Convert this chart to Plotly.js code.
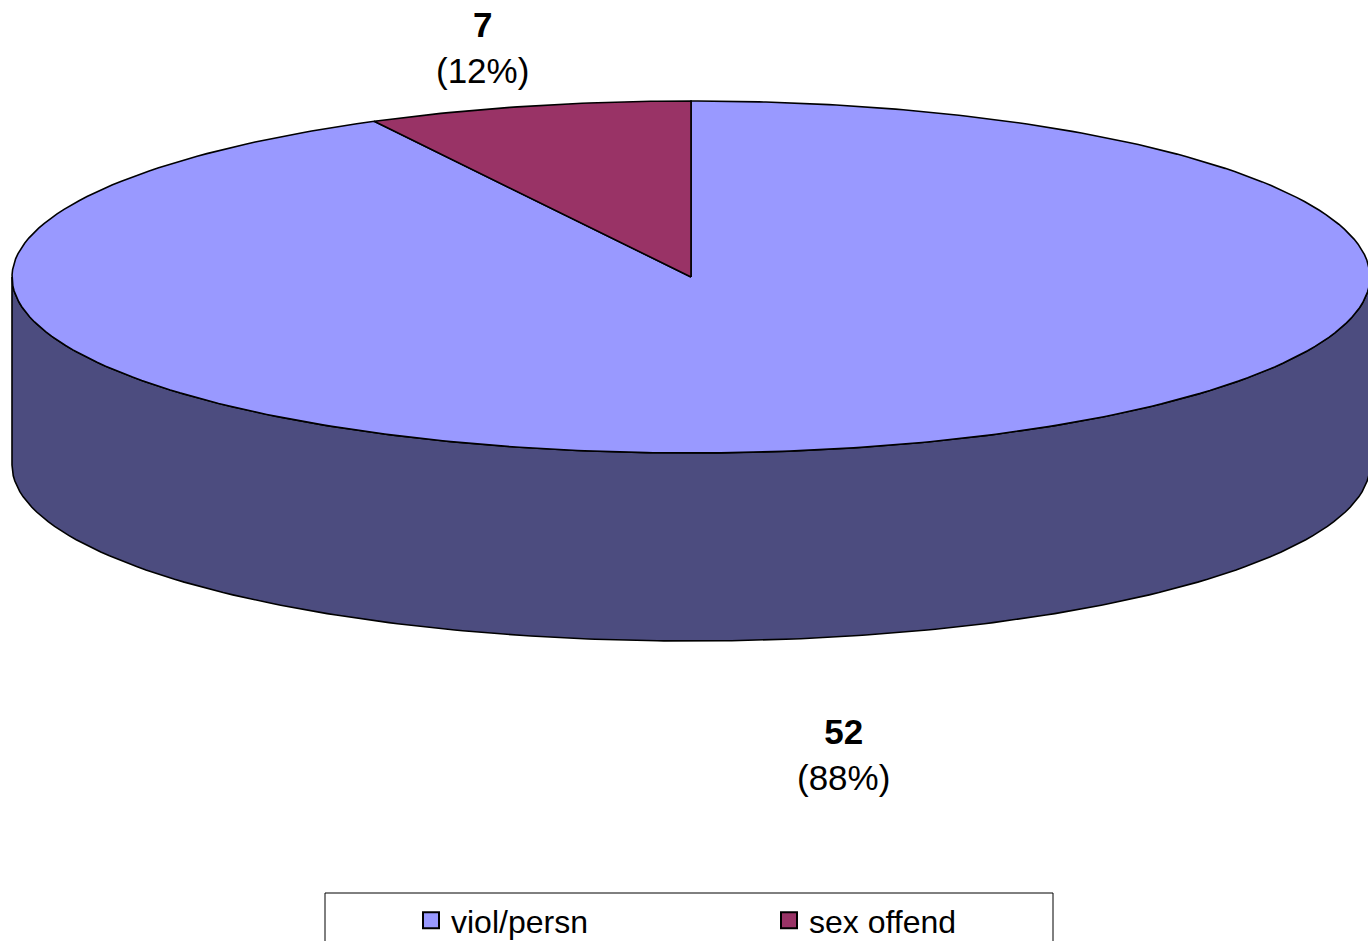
<!DOCTYPE html>
<html>
<head>
<meta charset="utf-8">
<script src="https://cdn.plot.ly/plotly-3.0.1.min.js"></script>
<style>html,body{margin:0;padding:0;background:#fff;}#chart{width:1368px;height:941px;}</style>
</head>
<body>
<div id="chart"></div>
<script>
// ---- data ----
const categories = ['viol/persn', 'sex offend'];
const values = [52, 7];
const topColors = ['#9999FF', '#993366'];
const sideColors = ['#4C4C7F', '#4C1933'];

// ---- 3D pie geometry (style) ----
const W = 1368, H = 941;
const cx = 691, cy = 277, rx = 679, ry = 176, depth = 188;
const warpK = 1.75;          // angular distortion of the tilted 3-D base
const labelXF = 1.22, labelDX = -28, gapBack = 58, gapFront = 118;

const total = values.reduce((a, b) => a + b, 0);
const rad = d => d * Math.PI / 180;
// clockwise angle from 12 o'clock (deg) -> projected parametric angle (rad)
function warp(deg) {
  const a = rad(deg);
  let t = Math.atan2(Math.sin(a), warpK * Math.cos(a));
  while (t - a > Math.PI) t -= 2 * Math.PI;
  while (a - t > Math.PI) t += 2 * Math.PI;
  return t;
}
const px = t => cx + rx * Math.sin(t);
const py = (t, dz) => cy - ry * Math.cos(t) + (dz || 0);

function arc(d1, d2, dz) {
  const n = Math.max(2, Math.ceil(Math.abs(d2 - d1) / 1));
  const xs = [], ys = [];
  for (let i = 0; i <= n; i++) {
    const t = warp(d1 + (d2 - d1) * i / n);
    xs.push(px(t)); ys.push(py(t, dz));
  }
  return [xs, ys];
}

const sides = [], tops = [], annotations = [];
let start = 0;
values.forEach((v, i) => {
  const sweep = v / total * 360;
  const d1 = start, d2 = start + sweep;
  const f1 = Math.max(d1, 90), f2 = Math.min(d2, 270);
  if (f2 > f1) {
    const [xt, yt] = arc(f1, f2, 0);
    const [xb, yb] = arc(f2, f1, depth);
    sides.push({
      type: 'scatter', mode: 'lines', x: xt.concat(xb, [xt[0]]), y: yt.concat(yb, [yt[0]]),
      fill: 'toself', fillcolor: sideColors[i], line: {color: '#000', width: 1.6},
      hoverinfo: 'skip', showlegend: false
    });
  }
  const [xa, ya] = arc(d1, d2, 0);
  tops.push({
    type: 'scatter', mode: 'lines', x: [cx].concat(xa, [cx]), y: [cy].concat(ya, [cy]),
    fill: 'toself', fillcolor: topColors[i], line: {color: '#000', width: 1.6},
    name: categories[i], hoverinfo: 'name', showlegend: false
  });
  const tm = warp((d1 + d2) / 2);
  const front = Math.cos(tm) < 0;
  const lx = cx + labelXF * rx * Math.sin(tm) + labelDX;
  const ly = py(tm, front ? depth + gapFront : -gapBack);
  annotations.push({
    x: lx, y: ly, xref: 'x', yref: 'y', showarrow: false, xanchor: 'center', yanchor: 'middle',
    text: '<b>' + v + '</b><br>(' + Math.round(v / total * 100) + '%)',
    font: {family: 'Liberation Sans, Arial, sans-serif', size: 35, color: '#000'}
  });
  start = d2;
});

const legendTraces = categories.map((c, i) => ({
  type: 'scatter', mode: 'markers', x: [null], y: [null], name: c,
  marker: {symbol: 'square', size: 18, color: topColors[i], line: {color: '#000', width: 2}},
  showlegend: true, hoverinfo: 'skip'
}));

const layout = {
  width: W, height: H,
  margin: {l: 0, r: 0, t: 0, b: 0, autoexpand: false},
  paper_bgcolor: '#fff', plot_bgcolor: '#fff',
  xaxis: {range: [0, W], visible: false, fixedrange: true},
  yaxis: {range: [H, 0], visible: false, fixedrange: true},
  showlegend: true,
  legend: {
    orientation: 'h', x: 411 / W, xanchor: 'left', y: 1 - 893 / H, yanchor: 'top',
    bgcolor: 'rgba(0,0,0,0)', borderwidth: 0, entrywidth: 313, entrywidthmode: 'pixels',
    font: {family: 'Liberation Sans, Arial, sans-serif', size: 32, color: '#000'},
    itemclick: false, itemdoubleclick: false
  },
  shapes: [{
    type: 'rect', xref: 'paper', yref: 'paper',
    x0: 325 / W, x1: 1053 / W, y0: -0.05, y1: 1 - 893 / H,
    line: {color: '#000', width: 1}, fillcolor: 'rgba(0,0,0,0)', layer: 'below'
  }],
  annotations: annotations,
  font: {family: 'Liberation Sans, Arial, sans-serif'}
};

Plotly.newPlot('chart', sides.concat(tops, legendTraces), layout, {staticPlot: true, displayModeBar: false});
</script>
</body>
</html>
